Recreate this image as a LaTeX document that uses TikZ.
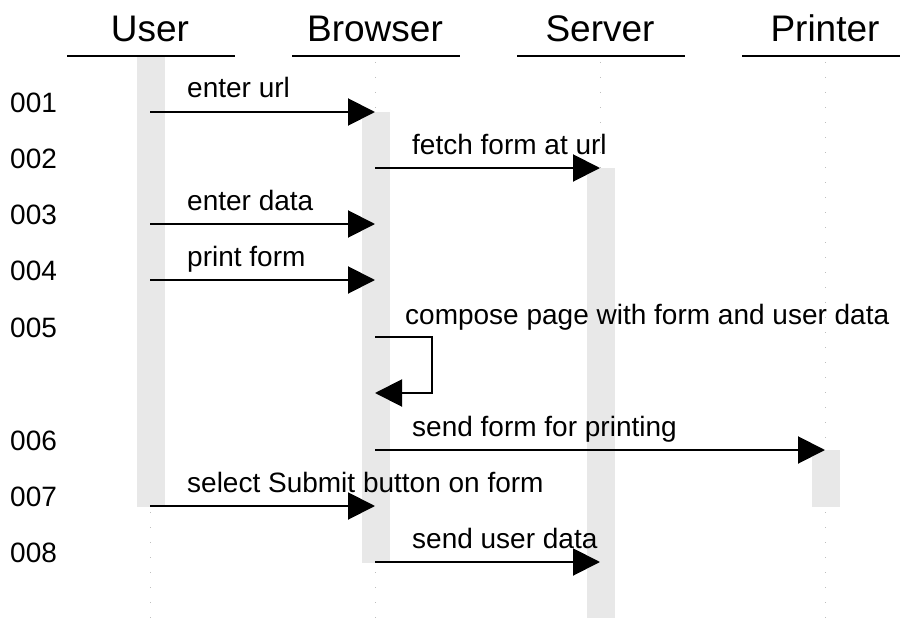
\documentclass[tikz,border=0pt]{standalone}
\usepackage{fontspec}
\setmainfont{Liberation Sans}
\usepackage{tikz}
\usetikzlibrary{arrows.meta}
\definecolor{barfill}{RGB}{232,232,232}
\definecolor{lifegray}{RGB}{190,190,190}

\begin{document}
\begin{tikzpicture}[x=1pt,y=-1pt]
    \tikzstyle{msg} = [-{Triangle[length=27pt,width=27pt]}, line width=2pt]
    \tikzstyle{lbl} = [anchor=base west, inner sep=0pt]
    \tikzstyle{head} = [anchor=base, inner sep=0pt, font=\fontsize{37}{42}\selectfont]
    \tikzstyle{bar} = [fill=barfill, draw=none]
    \tikzstyle{life} = [lifegray, line width=0.8pt, dash pattern=on 1pt off 14pt]
    \useasboundingbox (0,0) rectangle (900,618);
    \fontsize{28}{33}\selectfont
    % lifelines and headers
    \foreach \name/\txt/\x in {user/User/150, browser/Browser/375, server/Server/600, printer/Printer/825} {
        \node[head] (\name) at (\x,42) {\txt};
        \draw[line width=2pt] (\x-83,56) -- (\x+85,56);
        \draw[life] (\x,62) -- (\x,618);
    }
    % activation bars
    \fill[bar] (137,57) rectangle (165,507);
    \fill[bar] (362,112) rectangle (390,563);
    \fill[bar] (587,168) rectangle (615,618);
    \fill[bar] (812,450) rectangle (840,507);
    % step numbers
    \foreach \n/\y in {001/112, 002/168, 003/224, 004/280, 005/337, 006/450, 007/506, 008/562}
        \node[lbl] (n\n) at (10,\y) {\n};
    % messages
    \coordinate (u1) at (150,112); \coordinate (b1) at (375,112);
    \draw[msg] (u1) -- (b1);
    \node[lbl] (m1) at (187,98) {enter url};
    \coordinate (b2) at (375,168); \coordinate (s2) at (600,168);
    \draw[msg] (b2) -- (s2);
    \node[lbl] (m2) at (412,154) {fetch form at url};
    \coordinate (u3) at (150,224); \coordinate (b3) at (375,224);
    \draw[msg] (u3) -- (b3);
    \node[lbl] (m3) at (187,210) {enter data};
    \coordinate (u4) at (150,280); \coordinate (b4) at (375,280);
    \draw[msg] (u4) -- (b4);
    \node[lbl] (m4) at (187,266) {print form};
    \coordinate (b5) at (375,337); \coordinate (b5e) at (375,393);
    \draw[msg] (b5) -- (432,337) -- (432,393) -- (b5e);
    \node[lbl] (m5) at (405,324) {compose page with form and user data};
    \coordinate (b6) at (375,450); \coordinate (p6) at (825,450);
    \draw[msg] (b6) -- (p6);
    \node[lbl] (m6) at (412,436) {send form for printing};
    \coordinate (u7) at (150,506); \coordinate (b7) at (375,506);
    \draw[msg] (u7) -- (b7);
    \node[lbl] (m7) at (187,492) {select Submit button on form};
    \coordinate (b8) at (375,562); \coordinate (s8) at (600,562);
    \draw[msg] (b8) -- (s8);
    \node[lbl] (m8) at (412,548) {send user data};
\end{tikzpicture}
\end{document}
